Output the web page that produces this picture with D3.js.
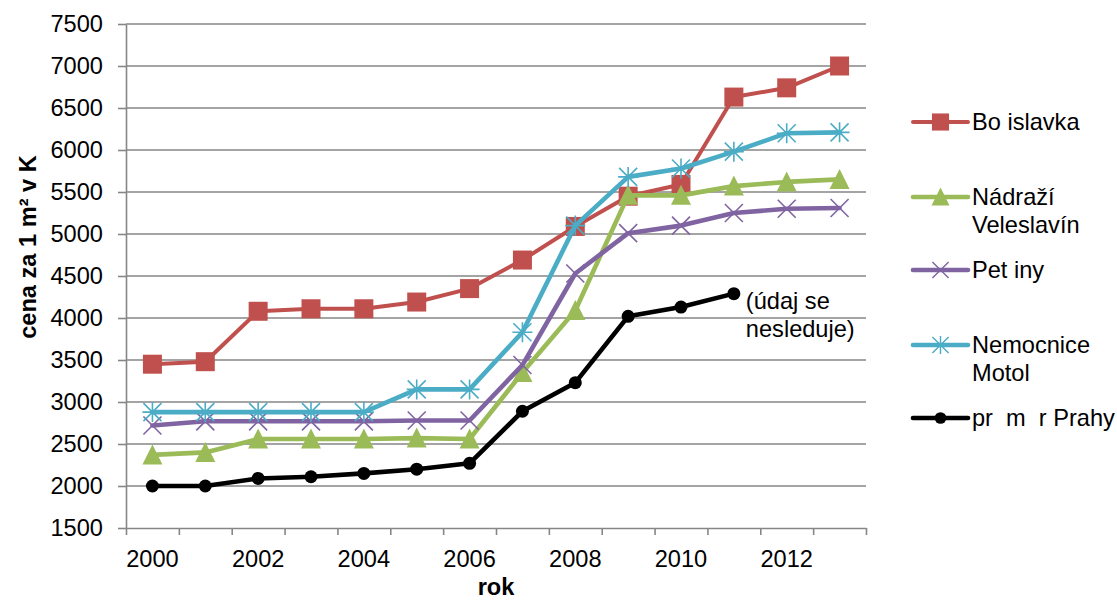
<!DOCTYPE html>
<html>
<head>
<meta charset="utf-8">
<script src="https://cdn.jsdelivr.net/npm/d3@7"></script>
<style>
  body { margin: 0; background: #fff; }
  svg { display: block; font-family: "Liberation Sans", Arial, sans-serif; }
  .lbl { white-space: pre; }
</style>
</head>
<body>
<div id="graf"></div>
<script>
// data
const roky = [2000, 2001, 2002, 2003, 2004, 2005, 2006, 2007, 2008, 2009, 2010, 2011, 2012, 2013];
const rokyPopisky = [2000, 2002, 2004, 2006, 2008, 2010, 2012];
const yTicks = [1500, 2000, 2500, 3000, 3500, 4000, 4500, 5000, 5500, 6000, 6500, 7000, 7500];

const borislavka = [3450, 3480, 4080, 4110, 4110, 4190, 4350, 4690, 5090, 5450, 5590, 6630, 6740, 7000];
const veleslavin = [2370, 2400, 2560, 2560, 2560, 2570, 2560, 3350, 4090, 5460, 5460, 5570, 5620, 5650];
const petriny = [2720, 2770, 2770, 2770, 2770, 2780, 2780, 3440, 4530, 5010, 5100, 5250, 5300, 5310];
const motol = [2880, 2880, 2880, 2880, 2880, 3150, 3150, 3830, 5100, 5680, 5780, 5980, 6200, 6210];
const prumerPrahy = [2000, 2000, 2090, 2110, 2150, 2200, 2270, 2890, 3230, 4020, 4130, 4290, null, null];

const nazvy = [["Bo islavka"], ["Nádraží", "Veleslavín"], ["Pet iny"], ["Nemocnice", "Motol"], ["pr  m  r Prahy"]];
const poznamka = ["(údaj se", "nesleduje)"];

const serie = [
  { hodnoty: borislavka, barva: "#C0504D", znacka: "ctverec", sirka: 4 },
  { hodnoty: veleslavin, barva: "#9BBB59", znacka: "trojuhelnik", sirka: 4.6 },
  { hodnoty: petriny, barva: "#8064A2", znacka: "krizek", sirka: 4.6 },
  { hodnoty: motol, barva: "#4BACC6", znacka: "hvezda", sirka: 4.6 },
  { hodnoty: prumerPrahy, barva: "#000000", znacka: "kolecko", sirka: 4.6 }
];

const width = 1117;
const height = 602;
const plot = { left: 126, right: 866, top: 24, bottom: 528 };
const sedaOsa = "#868686";
const pismo = 23.6;

const svg = d3.select("#graf")
  .append("svg")
  .attr("width", width)
  .attr("height", height)
  .attr("viewBox", `0 0 ${width} ${height}`);

const x = d3.scaleBand().domain(roky).range([plot.left, plot.right]);
const xTick = d3.scaleLinear().domain([0, roky.length]).range([plot.left, plot.right]);
const y = d3.scaleLinear().domain([1500, 7500]).range([plot.bottom, plot.top]);
const cx = (rok) => x(rok) + x.bandwidth() / 2;

// grid
svg.append("g")
  .selectAll("line")
  .data(yTicks.slice(1))
  .enter()
  .append("line")
  .attr("x1", plot.left)
  .attr("x2", plot.right)
  .attr("y1", (d) => y(d))
  .attr("y2", (d) => y(d))
  .attr("stroke", sedaOsa)
  .attr("stroke-width", 1.6);

// y axis
const osaY = svg.append("g")
  .attr("transform", `translate(${plot.left},0)`)
  .call(d3.axisLeft(y).tickValues(yTicks).tickFormat(d3.format("d")).tickSize(8).tickSizeOuter(0).tickPadding(15));
osaY.select(".domain").attr("stroke", sedaOsa).attr("stroke-width", 1.6);
osaY.selectAll(".tick line").attr("stroke", sedaOsa).attr("stroke-width", 1.6);
osaY.selectAll("text").attr("font-size", pismo).attr("fill", "#000").attr("dy", "0.33em");

// x axis: tick marks between categories, labels every other year
const osaX = svg.append("g")
  .attr("transform", `translate(0,${plot.bottom})`)
  .call(d3.axisBottom(xTick).tickValues(d3.range(roky.length + 1)).tickSize(7).tickSizeOuter(0).tickFormat(""));
osaX.select(".domain").attr("stroke", sedaOsa).attr("stroke-width", 1.6);
osaX.selectAll(".tick line").attr("stroke", sedaOsa).attr("stroke-width", 1.6);

svg.append("g")
  .selectAll("text")
  .data(rokyPopisky)
  .enter()
  .append("text")
  .attr("x", (d) => cx(d))
  .attr("y", plot.bottom + 39)
  .attr("text-anchor", "middle")
  .attr("font-size", pismo)
  .text((d) => d);

// axis titles
svg.append("text")
  .attr("x", (plot.left + plot.right) / 2)
  .attr("y", 595)
  .attr("text-anchor", "middle")
  .attr("font-size", pismo)
  .attr("font-weight", "bold")
  .text("rok");

svg.append("text")
  .attr("transform", "translate(36,247) rotate(-90)")
  .attr("text-anchor", "middle")
  .attr("font-size", pismo)
  .attr("font-weight", "bold")
  .text("cena za 1 m² v K");

function kresliZnacku(g, typ, barva) {
  if (typ === "ctverec") {
    g.append("rect").attr("x", -9.5).attr("y", -9.5).attr("width", 19).attr("height", 19).attr("fill", barva);
  } else if (typ === "trojuhelnik") {
    g.append("path").attr("d", "M0,-10.5L10,9.5L-10,9.5Z").attr("fill", barva);
  } else if (typ === "krizek") {
    g.append("path").attr("d", "M-9,-9L9,9M-9,9L9,-9").attr("stroke", barva).attr("stroke-width", 1.6).attr("fill", "none");
  } else if (typ === "hvezda") {
    g.append("path").attr("d", "M-9,-9L9,9M-9,9L9,-9M0,-10L0,10M-10,0L10,0").attr("stroke", barva).attr("stroke-width", 1.6).attr("fill", "none");
  } else {
    g.append("circle").attr("r", 6.5).attr("fill", barva);
  }
}

// series
serie.forEach((s) => {
  const body = roky.map((rok, i) => ({ rok, v: s.hodnoty[i] })).filter((d) => d.v !== null);
  const linie = d3.line().x((d) => cx(d.rok)).y((d) => y(d.v));

  svg.append("path")
    .datum(body)
    .attr("d", linie)
    .attr("fill", "none")
    .attr("stroke", s.barva)
    .attr("stroke-width", s.sirka)
    .attr("stroke-linejoin", "round")
    .attr("stroke-linecap", "round");

  svg.append("g")
    .selectAll("g")
    .data(body)
    .enter()
    .append("g")
    .attr("transform", (d) => `translate(${cx(d.rok)},${y(d.v)})`)
    .each(function () {
      kresliZnacku(d3.select(this), s.znacka, s.barva);
    });
});

// note next to the last Prague value
const posledni = 11;
const poznamkaText = svg.append("text")
  .attr("y", y(prumerPrahy[posledni]) + 15)
  .attr("font-size", pismo);
poznamkaText.selectAll("tspan")
  .data(poznamka)
  .enter()
  .append("tspan")
  .attr("x", cx(roky[posledni]) + 12)
  .attr("dy", (d, i) => (i === 0 ? 0 : 28))
  .text((d) => d);

// legend
const legendaY = [122, 197, 270, 345, 418];
const legenda = svg.append("g");
serie.forEach((s, i) => {
  const radek = legenda.append("g").attr("transform", `translate(913,${legendaY[i]})`);
  radek.append("line")
    .attr("x1", 0).attr("x2", 55)
    .attr("stroke", s.barva)
    .attr("stroke-width", s.sirka)
    .attr("stroke-linecap", "round");
  const zn = radek.append("g").attr("transform", "translate(27.5,0) scale(0.9)");
  kresliZnacku(zn, s.znacka, s.barva);

  const t = radek.append("text")
    .attr("class", "lbl")
    .attr("y", 8)
    .attr("font-size", pismo);
  t.selectAll("tspan")
    .data(nazvy[i])
    .enter()
    .append("tspan")
    .attr("x", 59)
    .attr("dy", (d, j) => (j === 0 ? 0 : 28))
    .text((d) => d);
});
</script>
</body>
</html>
